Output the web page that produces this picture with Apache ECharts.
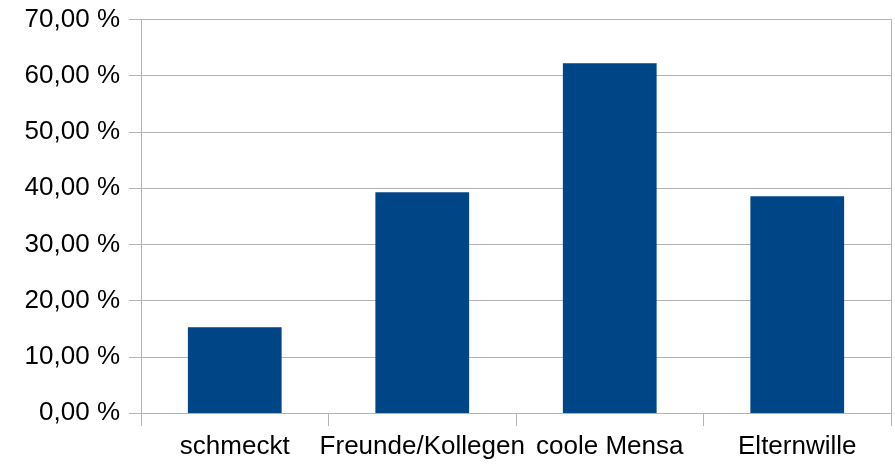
<!DOCTYPE html>
<html>
<head>
<meta charset="utf-8">
<script src="https://cdn.jsdelivr.net/npm/echarts@6/dist/echarts.min.js"></script>
<style>
html,body{margin:0;padding:0;background:#fff;}
#chart{width:895px;height:464px;}
</style>
</head>
<body>
<div id="chart"></div>
<script>
const categories = ["schmeckt", "Freunde/Kollegen", "coole Mensa", "Elternwille"];
const values = [15.25, 39.27, 62.2, 38.56];
const yTicks = [0, 10, 20, 30, 40, 50, 60, 70];

const fontFamily = '"Liberation Sans", Arial, sans-serif';
const gridColor = '#b3b3b3';

const chart = echarts.init(document.getElementById('chart'), null, {renderer: 'canvas'});
chart.setOption({
  animation: false,
  backgroundColor: '#ffffff',
  grid: {left: 141, right: 4, top: 19.5, bottom: 51, containLabel: false},
  xAxis: {
    type: 'category',
    data: categories,
    boundaryGap: true,
    axisLine: {show: true, lineStyle: {color: gridColor, width: 1}},
    axisTick: {show: true, length: 13, alignWithLabel: false, lineStyle: {color: gridColor}},
    axisLabel: {interval: 0, margin: 21, color: '#000', fontSize: 26, fontFamily: fontFamily},
    splitLine: {show: false}
  },
  yAxis: [{
    type: 'value',
    min: yTicks[0],
    max: yTicks[yTicks.length - 1],
    interval: 10,
    axisLine: {show: true, lineStyle: {color: gridColor, width: 1}},
    axisTick: {show: true, length: 12, lineStyle: {color: gridColor}},
    axisLabel: {
      margin: 21, color: '#000', fontSize: 26, fontFamily: fontFamily,
      formatter: v => v.toFixed(2).replace('.', ',') + ' %'
    },
    splitLine: {show: true, lineStyle: {color: gridColor, width: 1}}
  }, {
    type: 'value',
    position: 'right',
    min: yTicks[0],
    max: yTicks[yTicks.length - 1],
    interval: 10,
    axisLine: {show: true, lineStyle: {color: gridColor, width: 1}},
    axisTick: {show: false},
    axisLabel: {show: false},
    splitLine: {show: false}
  }],
  series: [{
    type: 'bar',
    data: values,
    barWidth: '50%',
    itemStyle: {color: '#004586'},
    yAxisIndex: 0
  }]
});
</script>
</body>
</html>
